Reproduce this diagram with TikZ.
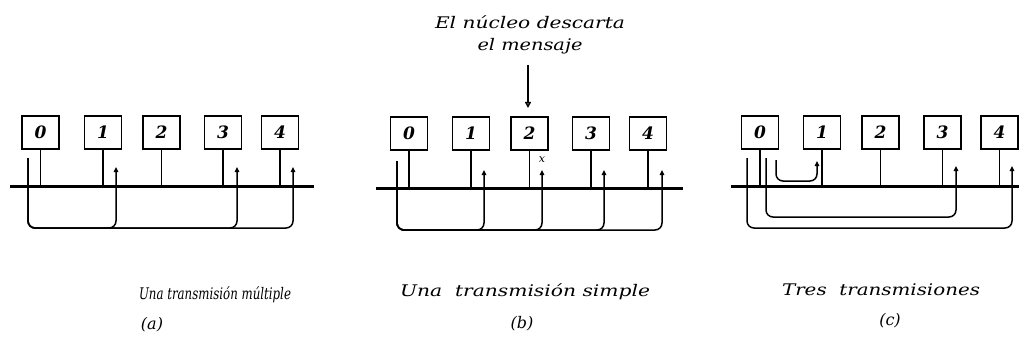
\documentclass[tikz,border=0pt]{standalone}
\usepackage{fontspec}
\setmainfont{DejaVu Serif}
\usetikzlibrary{arrows.meta}
\begin{document}
\begin{tikzpicture}[x=1pt,y=-1pt,
 box/.style={draw,line width=1.4pt,minimum width=37pt,minimum height=33pt,inner sep=0pt,font=\fontsize{17}{17}\selectfont\bfseries\itshape},
 bus/.style={line width=3pt},
 stem/.style={line width=1.5pt},
 link/.style={line width=1.5pt,rounded corners=7pt},
 tip/.style={link,-{Triangle[length=5pt,width=4.5pt]}},
 captxt/.style={font=\fontsize{16}{16}\selectfont\itshape,inner sep=0pt},
 note/.style={font=\fontsize{16}{22}\selectfont\itshape,align=center,inner sep=0pt},
]
\useasboundingbox (0,0) rectangle (1019,342);
% ---------- panel (a)
\node[box] (a0) at (40.5,132.5) {0};
\node[box] (a1) at (103,132.5) {1};
\node[box] (a2) at (161.5,132.5) {2};
\node[box] (a3) at (223,132.5) {3};
\node[box] (a4) at (280,132.5) {4};
\coordinate (abusL) at (10,186);
\coordinate (abusR) at (314,186);
\draw[bus] (abusL) -- (abusR);
\foreach \i in {0,...,4} \draw[stem] (a\i.south) -- (a\i.south |- abusL);
\coordinate (as) at (28,158);
\coordinate (abot) at (0,228);
\coordinate (at1) at (116,167);
\coordinate (at3) at (237,167);
\coordinate (at4) at (293,167);
\draw[tip] (as) |- (at1 |- abot) -- (at1);
\draw[tip] (as) |- (at3 |- abot) -- (at3);
\draw[tip] (as) |- (at4 |- abot) -- (at4);
\node[captxt] (capa) at (215,295) {\resizebox{152pt}{\height}{Una transmisión múltiple}};
\node[captxt] (laba) at (152,325) {(a)};
% ---------- panel (b)
\node[note] (nt) at (530,35) {\resizebox{190pt}{\height}{El núcleo descarta}\\\resizebox{105pt}{\height}{el mensaje}};
\node[box] (b0) at (409,133.5) {0};
\node[box] (b1) at (471,133.5) {1};
\node[box] (b2) at (529.5,133.5) {2};
\node[box] (b3) at (591,133.5) {3};
\node[box] (b4) at (648,133.5) {4};
\coordinate (ntop) at (528,65);
\draw[line width=1.5pt,-{Triangle[length=6pt,width=6pt,open]}] (ntop) -- (ntop |- 0,108);
\coordinate (bbusL) at (376,188);
\coordinate (bbusR) at (683,188);
\draw[bus] (bbusL) -- (bbusR);
\foreach \i in {0,...,4} \draw[stem] (b\i.south) -- (b\i.south |- bbusL);
\coordinate (bs) at (397,161);
\coordinate (bbot) at (0,230);
\coordinate (bt1) at (484,170);
\coordinate (bt2) at (542,170);
\coordinate (bt3) at (604,170);
\coordinate (bt4) at (662,170);
\draw[tip] (bs) |- (bt1 |- bbot) -- (bt1);
\draw[tip] (bs) |- (bt2 |- bbot) -- (bt2);
\draw[tip] (bs) |- (bt3 |- bbot) -- (bt3);
\draw[tip] (bs) |- (bt4 |- bbot) -- (bt4);
\node[font=\fontsize{11}{11}\selectfont\itshape,inner sep=0pt] (bx) at (542,160) {x};
\node[captxt] (capb) at (525,292) {\resizebox{250pt}{\height}{Una\ \ transmisión simple}};
\node[captxt] (labb) at (522,324) {(b)};
% ---------- panel (c)
\node[box] (c0) at (760,132.5) {0};
\node[box] (c1) at (822,132.5) {1};
\node[box] (c2) at (880.5,132.5) {2};
\node[box] (c3) at (942.5,132.5) {3};
\node[box] (c4) at (999.5,132.5) {4};
\coordinate (cbusL) at (731,186);
\coordinate (cbusR) at (1019,186);
\draw[bus] (cbusL) -- (cbusR);
\foreach \i in {0,...,4} \draw[stem] (c\i.south) -- (c\i.south |- cbusL);
\coordinate (cs1) at (747,158);
\coordinate (cs2) at (766,158);
\coordinate (cs3) at (776,160);
\coordinate (cbot1) at (0,228);
\coordinate (cbot2) at (0,217);
\coordinate (cbot3) at (0,181);
\coordinate (ct4) at (1012,166);
\coordinate (ct3) at (956,166);
\coordinate (ct1) at (817,161);
\draw[tip] (cs1) |- (ct4 |- cbot1) -- (ct4);
\draw[tip] (cs2) |- (ct3 |- cbot2) -- (ct3);
\draw[tip] (cs3) |- (ct1 |- cbot3) -- (ct1);
\node[captxt] (capc) at (881,290) {\resizebox{198pt}{\height}{Tres\ \ transmisiones}};
\node[captxt] (labc) at (890,321) {(c)};
\end{tikzpicture}
\end{document}
